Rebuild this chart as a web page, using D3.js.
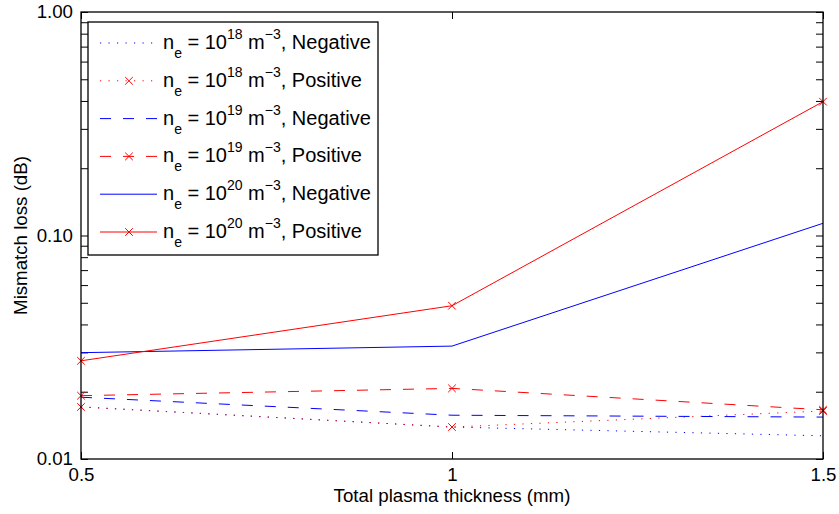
<!DOCTYPE html>
<html>
<head>
<meta charset="utf-8">
<script src="https://cdn.jsdelivr.net/npm/d3@7"></script>
<style>
  html, body { margin: 0; padding: 0; background: #fff; }
  svg { display: block; }
  text { font-family: "Liberation Sans", Arial, Helvetica, sans-serif; fill: #000; }
</style>
</head>
<body>
<svg id="chart" width="839" height="514"></svg>
<script>
// ---- data ----
const thickness = [0.5, 1, 1.5];
const neg18 = [0.0171, 0.0139, 0.0127];
const pos18 = [0.0171, 0.0139, 0.0164];
const neg19 = [0.0189, 0.0157, 0.0154];
const pos19 = [0.0192, 0.0207, 0.0166];
const neg20 = [0.0299, 0.0320, 0.1134];
const pos20 = [0.0275, 0.0485, 0.397];

const seriesExponents = ["18", "18", "19", "19", "20", "20"];
const seriesSigns = ["Negative", "Positive", "Negative", "Positive", "Negative", "Positive"];
const seriesColors = ["#0000ff", "#ff0000", "#0000ff", "#ff0000", "#0000ff", "#ff0000"];
const seriesStyles = ["dotted", "dotted", "dashed", "dashed", "solid", "solid"];
const seriesMarkers = [false, true, false, true, false, true];
const seriesValues = [neg18, pos18, neg19, pos19, neg20, pos20];

const xTicks = [0.5, 1, 1.5];
const xTickLabels = ["0.5", "1", "1.5"];
const yMajorTicks = [0.01, 0.1, 1];
const yTickLabels = ["0.01", "0.10", "1.00"];
const xLabel = "Total plasma thickness (mm)";
const yLabel = "Mismatch loss (dB)";

// ---- layout ----
const svg = d3.select("#chart");
const L = 81, R = 823, T = 12, B = 459;
const x = d3.scaleLinear().domain([0.5, 1.5]).range([L, R]);
const y = d3.scaleLog().domain([0.01, 1]).range([B, T]);

const dashMap = { dotted: "1.2 7.3", dashed: "11 12", solid: null };

// minor + major ticks for log axis
const yAllTicks = [];
for (let d = 0.01; d < 1; d *= 10) {
  for (let k = 1; k < 10; k++) yAllTicks.push(+(d * k).toPrecision(3));
}
yAllTicks.push(1);
const yLabelFor = v => {
  const i = yMajorTicks.findIndex(m => Math.abs(m - v) < 1e-9);
  return i >= 0 ? yTickLabels[i] : "";
};

const tickLen = 7;
const fontSize = 18.7;

// left axis
const gl = svg.append("g").attr("transform", `translate(${L},0)`)
  .call(d3.axisLeft(y).tickValues(yAllTicks).tickSize(-tickLen).tickSizeOuter(0).tickPadding(8).tickFormat(yLabelFor));
// right axis
const gr = svg.append("g").attr("transform", `translate(${R},0)`)
  .call(d3.axisRight(y).tickValues(yAllTicks).tickSize(-tickLen).tickSizeOuter(0).tickFormat(""));
// bottom axis
const gb = svg.append("g").attr("transform", `translate(0,${B})`)
  .call(d3.axisBottom(x).tickValues(xTicks).tickSize(-tickLen).tickSizeOuter(0).tickPadding(9)
    .tickFormat((d, i) => xTickLabels[i]));
// top axis
const gt = svg.append("g").attr("transform", `translate(0,${T})`)
  .call(d3.axisTop(x).tickValues(xTicks).tickSize(-tickLen).tickSizeOuter(0).tickFormat(""));

[gl, gr, gb, gt].forEach(g => {
  g.select(".domain").remove();
  g.selectAll(".tick line").attr("stroke", "#000").attr("stroke-width", 1);
  g.selectAll("text").style("font-size", fontSize + "px").style("font-family", '"Liberation Sans", Arial, sans-serif').attr("fill", "#000");
});

// series lines
const line = d3.line().x((d, i) => x(thickness[i])).y(d => y(d));
const plot = svg.append("g");
seriesValues.forEach((vals, s) => {
  plot.append("path")
    .attr("d", line(vals))
    .attr("fill", "none")
    .attr("stroke", seriesColors[s])
    .attr("stroke-width", 1)
    .attr("stroke-dasharray", dashMap[seriesStyles[s]]);
  if (seriesMarkers[s]) {
    plot.selectAll(null).data(vals).enter().append("path")
      .attr("transform", (d, i) => `translate(${x(thickness[i])},${y(d)})`)
      .attr("d", "M-3.8,-3.8L3.8,3.8M-3.8,3.8L3.8,-3.8")
      .attr("stroke", seriesColors[s])
      .attr("stroke-width", 1);
  }
});

// frame
svg.append("rect")
  .attr("x", L).attr("y", T).attr("width", R - L).attr("height", B - T)
  .attr("fill", "none").attr("stroke", "#000").attr("stroke-width", 1.3);

// axis labels
svg.append("text")
  .attr("x", (L + R) / 2).attr("y", 502)
  .attr("text-anchor", "middle")
  .style("font-size", fontSize + "px")
  .text(xLabel);
svg.append("text")
  .attr("transform", `translate(27,${(T + B) / 2}) rotate(-90)`)
  .attr("text-anchor", "middle")
  .style("font-size", fontSize + "px")
  .text(yLabel);

// legend
const lg = svg.append("g");
const lgX = 88, lgY = 22, lgW = 290, lgH = 233;
lg.append("rect").attr("x", lgX).attr("y", lgY).attr("width", lgW).attr("height", lgH)
  .attr("fill", "#fff").attr("stroke", "#000").attr("stroke-width", 1.3);
const rowY = i => 43 + i * 37.8;
const legFont = 20, subFont = 14;
seriesValues.forEach((vals, s) => {
  const cy = rowY(s);
  lg.append("line")
    .attr("x1", 100).attr("x2", 157).attr("y1", cy).attr("y2", cy)
    .attr("stroke", seriesColors[s]).attr("stroke-width", 1)
    .attr("stroke-dasharray", dashMap[seriesStyles[s]]);
  if (seriesMarkers[s]) {
    lg.append("path")
      .attr("transform", `translate(129,${cy})`)
      .attr("d", "M-3.8,-3.8L3.8,3.8M-3.8,3.8L3.8,-3.8")
      .attr("stroke", seriesColors[s]).attr("stroke-width", 1);
  }
  const t = lg.append("text").attr("x", 163).attr("y", cy + 6)
    .style("font-size", legFont + "px").style("white-space", "pre");
  t.append("tspan").text("n");
  t.append("tspan").attr("dy", 9).style("font-size", subFont + "px").text("e");
  t.append("tspan").attr("dy", -9).text(" = 10");
  t.append("tspan").attr("dy", -10).style("font-size", subFont + "px").text(seriesExponents[s]);
  t.append("tspan").attr("dy", 10).text(" m");
  t.append("tspan").attr("dy", -10).style("font-size", subFont + "px").text("\u22123");
  t.append("tspan").attr("dy", 10).text(", " + seriesSigns[s]);
});
</script>
</body>
</html>
